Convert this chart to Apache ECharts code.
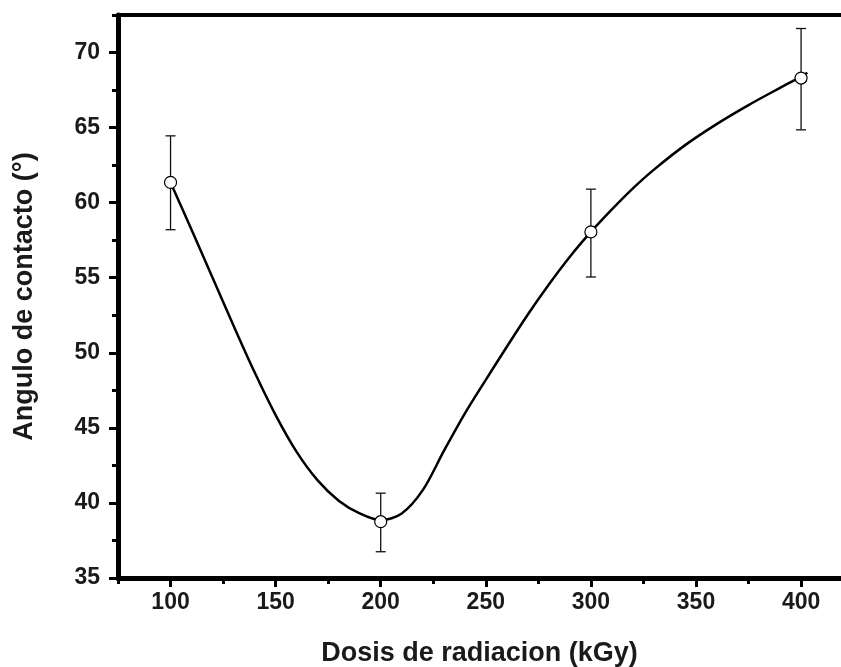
<!DOCTYPE html>
<html>
<head>
<meta charset="utf-8">
<script src="https://cdn.jsdelivr.net/npm/echarts@6/dist/echarts.min.js"></script>
<style>html,body{margin:0;padding:0;background:#fff}#c{width:841px;height:667px}</style>
</head>
<body>
<div id="c"></div>
<script>
// Measured points (dose kGy, contact angle °) with error bars
const doses = [100, 200, 300, 400];
const angles = [61.35, 38.75, 58.05, 68.3];
const errLow = [58.2, 36.75, 55.05, 64.85];
const errHigh = [64.45, 40.65, 60.9, 71.6];

// Fitted curve
const fitX = [100, 110, 120, 130, 140, 150, 160, 170, 180, 190, 200, 210, 220, 230, 240, 250, 260, 270, 280, 290, 300, 310, 320, 330, 345, 360, 375, 390, 400, 403];
const fitY = [61.35, 58.2, 55.0, 51.8, 48.7, 45.85, 43.4, 41.5, 40.15, 39.3, 38.85, 39.3, 40.85, 43.45, 45.95, 48.2, 50.4, 52.55, 54.55, 56.4, 58.05, 59.55, 60.95, 62.2, 63.85, 65.25, 66.5, 67.65, 68.4, 68.65];

// Tick values
const xMajor = [100, 150, 200, 250, 300, 350, 400];
const xMinor = [75, 125, 175, 225, 275, 325, 375];
const yMajor = [35, 40, 45, 50, 55, 60, 65, 70];
const yMinor = [37.5, 42.5, 47.5, 52.5, 57.5, 62.5, 67.5, 72.5];

const FONT = '"Liberation Sans", Arial, sans-serif';
const chart = echarts.init(document.getElementById('c'), null, {renderer: 'canvas'});

const labelStyle = {fontFamily: FONT, fontWeight: 'bold', fontSize: 23, color: '#1a1a1a'};
const axisLineStyle = {color: '#000', width: 5};
const X_MIN = 75, X_MAX = 419;

chart.setOption({
  animation: false,
  backgroundColor: '#fff',
  grid: {left: 118, right: 0, top: 15, bottom: 89, containLabel: false, outerBoundsMode: 'none'},
  xAxis: [
    {
      type: 'value', min: X_MIN, max: X_MAX, position: 'bottom',
      name: 'Dosis de radiacion (kGy)', nameLocation: 'middle', nameGap: 62,
      nameTextStyle: {fontFamily: FONT, fontWeight: 'bold', fontSize: 27, color: '#1a1a1a'},
      axisLine: {show: true, onZero: false, lineStyle: axisLineStyle},
      axisTick: {show: true, inside: false, length: 9, customValues: xMajor, lineStyle: {color: '#000', width: 3}},
      axisLabel: {show: true, margin: 13, customValues: xMajor, ...labelStyle},
      splitLine: {show: false}
    },
    {
      type: 'value', min: X_MIN, max: X_MAX, position: 'bottom',
      axisLine: {show: false, onZero: false},
      axisTick: {show: true, inside: false, length: 6, customValues: xMinor, lineStyle: {color: '#000', width: 3}},
      axisLabel: {show: false},
      splitLine: {show: false}
    },
    {
      type: 'value', min: X_MIN, max: X_MAX, position: 'top',
      axisLine: {show: true, onZero: false, lineStyle: {color: '#000', width: 4}},
      axisTick: {show: false}, axisLabel: {show: false}, splitLine: {show: false}
    }
  ],
  yAxis: [
    {
      type: 'value', min: 35, max: 72.5, position: 'left',
      name: 'Angulo de contacto (°)', nameLocation: 'middle', nameGap: 80, nameRotate: 90,
      nameTextStyle: {fontFamily: FONT, fontWeight: 'bold', fontSize: 27, color: '#1a1a1a'},
      axisLine: {show: true, onZero: false, lineStyle: axisLineStyle},
      axisTick: {show: true, inside: false, length: 9, customValues: yMajor, lineStyle: {color: '#000', width: 3}},
      axisLabel: {show: true, margin: 18, customValues: yMajor, ...labelStyle},
      splitLine: {show: false}
    },
    {
      type: 'value', min: 35, max: 72.5, position: 'left',
      axisLine: {show: false, onZero: false},
      axisTick: {show: true, inside: false, length: 6, customValues: yMinor, lineStyle: {color: '#000', width: 3}},
      axisLabel: {show: false},
      splitLine: {show: false}
    }
  ],
  series: [
    {
      type: 'line', xAxisIndex: 0, yAxisIndex: 0,
      data: fitX.map((x, i) => [x, fitY[i]]),
      smooth: 0.3, showSymbol: false, symbol: 'none',
      lineStyle: {color: '#000', width: 2.5}, z: 2
    },
    {
      type: 'custom', xAxisIndex: 0, yAxisIndex: 0,
      data: doses.map((d, i) => [d, errLow[i], errHigh[i]]),
      renderItem: function (params, api) {
        const lo = api.coord([api.value(0), api.value(1)]);
        const hi = api.coord([api.value(0), api.value(2)]);
        const w = 5;
        const st = {stroke: '#111', lineWidth: 1.3, fill: null};
        return {
          type: 'group',
          children: [
            {type: 'line', shape: {x1: lo[0], y1: lo[1], x2: hi[0], y2: hi[1]}, style: st},
            {type: 'line', shape: {x1: lo[0] - w, y1: lo[1], x2: lo[0] + w, y2: lo[1]}, style: st},
            {type: 'line', shape: {x1: hi[0] - w, y1: hi[1], x2: hi[0] + w, y2: hi[1]}, style: st}
          ]
        };
      },
      z: 3
    },
    {
      type: 'scatter', xAxisIndex: 0, yAxisIndex: 0,
      data: doses.map((d, i) => [d, angles[i]]),
      symbol: 'circle', symbolSize: 12,
      itemStyle: {color: '#fff', borderColor: '#000', borderWidth: 1.2, opacity: 1},
      z: 4
    }
  ]
});
</script>
</body>
</html>
